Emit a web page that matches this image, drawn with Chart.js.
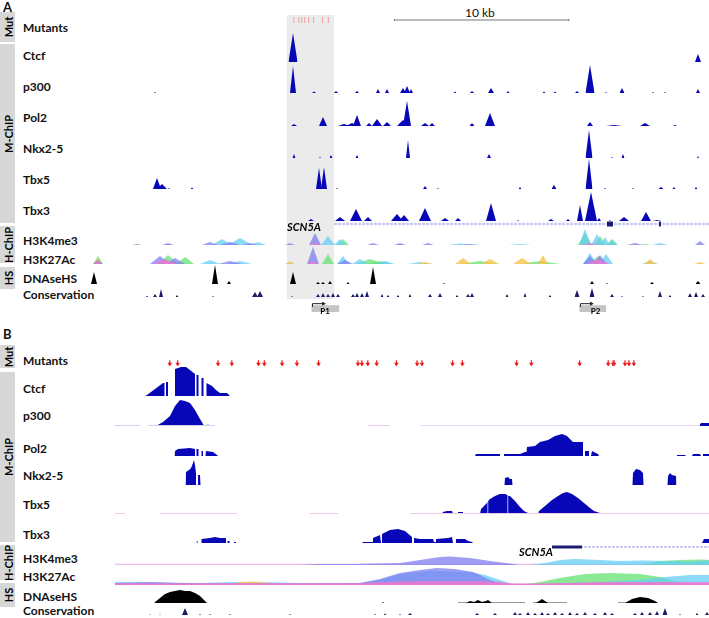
<!DOCTYPE html>
<html>
<head>
<meta charset="utf-8">
<script src="https://cdn.jsdelivr.net/npm/chart.js@4.4.1/dist/chart.umd.min.js"></script>
<style>
body { margin: 0; width: 709px; height: 618px; position: relative; background: #fff; font-family: Lato, 'Open Sans', sans-serif; overflow: hidden; }
canvas.trk { position: absolute; left: 0; }
.lbl { position: absolute; font-weight: bold; font-size: 12px; line-height: 14px; transform: translateY(-50%); white-space: nowrap; color: #111; }
.tab { position: absolute; left: 0; width: 15px; background: #d7d7d7; }
.tab span { position: absolute; left: 50%; top: 50%; transform: translate(-50%, -50%) rotate(-90deg); font-weight: bold; font-size: 11px; white-space: nowrap; }
.hl { position: absolute; background: #ebebeb; }
.gene { position: absolute; font-weight: bold; font-style: italic; font-size: 11px; transform: translateY(-50%); }
.prom { position: absolute; font-weight: bold; font-size: 8px; transform: translate(-50%, -50%); }
</style>
</head>
<body>
<script>
// ---- panel A (view spans the 709 px wide browser window, positions in view bins) ----
const aMut = [293, 298, 301, 304, 308, 313, 322, 328];
// peaks: [position, height, half width]
const aCtcf = [[293, 29, 4.5], [698, 8, 3]];
const aP300 = [[155, 1, 1], [293, 27, 3], [314, 1.5, 2], [336, 2, 2], [357, 2, 2], [378, 4, 2], [387, 4, 2], [403, 5, 3], [407, 7, 3], [411, 4, 2], [455, 1.5, 1.5], [472, 2, 2], [491, 5, 3], [508, 2, 1.5], [544, 1.5, 1.5], [555, 1.5, 1.5], [577, 2, 2], [590, 28, 4.5], [606, 1, 1], [622, 5, 2.5], [653, 1, 1], [665, 1, 1], [698, 4, 2]];
const aPol2 = [[294, 2, 3], [323, 9, 4], [344, 2, 6], [357, 11, 4], [352, 3, 6], [369, 3, 3], [377, 7, 5], [387, 4, 4], [403, 6, 6], [407, 25, 4], [425, 3, 4], [432, 3, 3], [472, 3, 2.5], [490, 13, 5], [590, 4, 3], [614, 1, 8], [645, 3, 5], [675, 1, 2]];
const aNkx = [[294, 4, 1.5], [320, 1, 1], [331, 3, 1.5], [357, 3, 1.5], [408, 18, 2], [489, 4, 2], [589, 28, 3.5], [612, 1, 1], [623, 4, 1.5], [698, 2, 1]];
const aTbx5 = [[157, 11, 4], [162, 5, 5], [169, 1, 1], [192, 1.5, 1.5], [319, 21, 3], [324, 22, 3], [337, 1, 1], [425, 3, 2], [438, 1, 1], [520, 2, 1.5], [554, 4, 2.5], [589, 30, 3.5], [605, 1, 1], [633, 1, 1], [661, 2, 2.5], [674, 2, 1.5], [696, 2, 1.5]];
const aTbx3 = [[311, 2, 3], [340, 4, 5], [356, 12, 6], [368, 4, 4], [397, 7, 6], [404, 6, 5], [425, 13, 6], [445, 3, 4], [458, 3, 3], [491, 18, 5], [518, 1, 1], [551, 2, 3], [568, 2, 2], [580, 16, 3], [591, 29, 6], [599, 3, 2], [610, 1, 1], [624, 4, 5], [646, 9, 5], [657, 1, 4]];
const aK4Purple = [[168, 2, 6], [210, 3, 8], [230, 3, 10], [250, 2, 8], [290, 2, 5], [315, 12, 6], [373, 2, 6], [400, 2, 6], [428, 2, 6], [470, 1, 10], [635, 2, 8], [700, 4, 5]];
const aK4Cyan = [[222, 6, 10], [240, 7, 12], [258, 3, 8], [328, 9, 7], [340, 6, 6], [460, 1.5, 12], [520, 1, 12], [585, 16, 6], [597, 11, 6], [605, 8, 5], [612, 5, 5], [660, 2, 8]];
const aK4Green = [[137, 1, 4], [343, 6, 6], [585, 12, 7], [600, 9, 6], [612, 6, 6], [645, 1, 6]];
const aK4Pink = [[137, 1, 4], [315, 2, 6], [590, 2, 8]];
const aK27Purple = [[98, 4, 5], [160, 8, 10], [175, 6, 10], [230, 3, 12], [313, 17, 6], [345, 4, 8], [590, 8, 7], [600, 9, 7]];
const aK27Green = [[98, 8, 5], [168, 9, 10], [185, 7, 9], [328, 10, 6], [370, 5, 14], [380, 3, 12], [480, 3, 20], [540, 3, 20], [598, 8, 9]];
const aK27Cyan = [[210, 4, 10], [240, 3, 12], [290, 2, 5], [343, 8, 6], [360, 5, 8], [385, 3, 10], [420, 2, 12], [590, 11, 7], [606, 10, 7], [650, 3, 8]];
const aK27Pink = [[98, 3, 4], [165, 5, 12], [313, 3, 5], [598, 5, 12]];
const aK27Orange = [[98, 6, 4], [290, 3, 4], [425, 2, 8], [463, 6, 8], [490, 5, 9], [522, 6, 9], [543, 9, 5], [650, 5, 6], [700, 2, 6]];
const aDnase = [[94, 12, 3], [215, 19, 3], [229, 3, 2], [293, 12, 3], [318, 2, 2], [323, 2, 2], [330, 3, 2], [348, 2, 1.5], [373, 17, 3], [444, 1, 1], [592, 3, 2], [607, 1, 1], [652, 2, 2], [698, 3, 2.5]];
const aCons = [[147, 1, 1.5], [155, 3, 2], [161, 8, 2], [177, 2, 1.5], [213, 1, 1], [255, 5, 3], [260, 6, 3], [292, 1, 1], [318, 3, 2], [323, 4, 2], [328, 3, 2], [333, 4, 2], [338, 3, 2], [353, 3, 2], [357, 4, 2], [362, 4, 2], [367, 6, 2], [382, 3, 1.5], [388, 2, 1.5], [398, 2, 1.5], [410, 3, 1.5], [430, 3, 2], [440, 4, 2], [457, 2, 1.5], [468, 3, 2], [472, 4, 2], [507, 3, 1.5], [525, 4, 1.5], [550, 2, 1.5], [577, 7, 2.5], [592, 9, 2.5], [612, 3, 2], [622, 1, 1], [643, 1, 1], [660, 6, 2], [670, 2, 1.5], [690, 4, 2], [696, 5, 2], [703, 3, 2]];
const aGeneSpan = [334, 709];
const aExons = [[607, 613], [659, 661]];
const aPromoters = [[311, 339, 'P1'], [582, 609, 'P2']];
const aScaleBar = [395, 572];

// ---- panel B (zoom on the P1 region) ----
const bMut = [167, 175, 216, 230, 257, 263, 281, 296, 318, 358, 362, 368, 377, 397, 418, 423, 454, 464, 519, 534, 583, 612, 617, 618, 629, 633, 638];
// profiles: [position, signal]
const bCtcf = [[145, 0], [147, 1], [163, 13], [164.5, 13], [164.5, 0], [166, 0], [166, 14], [168, 14], [168, 0], [175, 0], [175, 27], [181, 29], [186, 29], [190, 26], [195, 22], [195, 0], [196.5, 0], [196.5, 21], [198.5, 21], [198.5, 0], [201.5, 0], [201.5, 18], [203.5, 18], [203.5, 0], [206.5, 0], [206.5, 13], [212, 10], [216, 6], [220, 3], [227, 3], [230, 0]];
const bP300 = [[156, 0], [163, 4], [170, 10], [175, 20], [180, 26], [185, 25], [190, 23], [195, 16], [200, 7], [203, 2], [204, 0], [207, 0], [208, 2], [209, 0], [699, 0], [701, 3], [709, 3]];
const bPol2 = [[174.5, 0], [175, 5], [178, 7], [190, 8], [195, 7], [195, 0], [196.5, 0], [196.5, 7], [198.5, 7], [198.5, 0], [201.5, 0], [201.5, 5], [203, 5], [203, 0], [205.5, 0], [206, 5], [213, 4], [217, 1], [218, 0], [475, 0], [476, 2], [500, 2], [500, 0], [504, 0], [504, 2], [520, 2], [525, 4], [526.5, 4], [527, 9], [535, 10], [540, 14], [548, 16], [555, 20], [562, 22], [567, 20], [573, 14], [583, 14], [583, 0], [585, 0], [585, 5], [589, 5], [589, 0], [591, 0], [592, 5], [598, 2], [599, 0], [677, 0], [677, 1], [685, 1], [686, 0], [692, 0], [693, 2], [700, 2], [701, 0], [703, 0], [703, 2], [709, 2]];
const bNkx = [[185.5, 0], [186, 13], [189, 15], [191, 17], [193, 22], [194, 25], [195, 20], [196, 12], [196, 0], [198, 0], [198, 10], [200, 10], [200.5, 0], [504.5, 0], [505, 7], [508, 8], [510, 6], [512, 6], [512.5, 0], [632.5, 0], [633, 12], [636, 16], [640, 15], [643, 12], [643.5, 0], [667.5, 0], [668, 9], [670, 12], [672, 10], [676, 9], [676.5, 0]];
const bTbx5 = [[436, 0], [437, 1], [438, 0], [442, 0], [443, 2], [447, 3], [452, 3], [453, 0], [458, 0], [458, 2], [463, 2], [463, 0], [471, 0], [472, 1], [473, 0], [480, 0], [481, 5], [486, 10], [487.5, 12], [487.5, 0], [488.2, 0], [488.2, 13], [490, 15], [495, 18], [500, 20], [505, 20], [507.5, 19], [507.5, 0], [508.2, 0], [508.2, 18], [510, 18], [515, 13], [520, 7], [524, 3], [528, 1], [529, 0], [538, 0], [539, 3], [545, 8], [552, 14], [558, 18], [563, 21], [567, 22], [572, 20], [578, 16], [584, 11], [590, 6], [594, 3], [600, 1], [601, 0], [686, 0], [687, 1], [690, 1], [691, 0]];
const bTbx3 = [[196.5, 0], [196.5, 2], [197.5, 2], [197.5, 0], [201.5, 0], [201.5, 4], [210, 5], [215, 6], [220, 5], [226, 5], [226, 0], [227.5, 0], [227.5, 2], [229.5, 2], [229.5, 0], [234, 0], [234, 1], [236, 1], [236, 0], [362, 0], [363, 1], [372, 1], [373, 5], [380, 8], [381, 0], [382, 0], [382, 9], [390, 13], [398, 14], [405, 12], [412, 6], [412, 0], [414, 0], [414, 5], [420, 4], [433, 4], [434, 1], [436, 1], [436, 4], [448, 5], [452, 6], [453, 0], [456, 0], [456, 4], [465, 4], [468, 2], [472, 1], [473, 0], [702, 0], [704, 4], [709, 4]];
const bK4Purple = [[300, 0], [320, 1], [350, 1], [400, 2], [420, 5], [440, 8], [450, 8.5], [470, 7], [490, 4], [510, 1.5], [520, 0]];
const bK4Cyan = [[530, 0], [545, 2], [560, 5], [575, 6], [600, 5], [620, 4], [640, 4.5], [670, 4], [690, 3.5], [709, 4.5]];
const bK4Green = [[640, 0], [660, 4], [680, 5], [700, 5.5], [709, 5]];
const bK27Purple = [[115, 2], [150, 3], [180, 2], [220, 1.5], [300, 1.5], [360, 2], [380, 6], [400, 12], [420, 15], [437, 17], [455, 16], [473, 13], [480, 10], [490, 5], [500, 2], [510, 0]];
const bK27Cyan = [[115, 3], [160, 2.5], [200, 2], [230, 3], [260, 3], [300, 2], [360, 2], [380, 5], [400, 11], [430, 14], [470, 13], [485, 10], [500, 5], [515, 0], [540, 1], [600, 3], [640, 5], [665, 8], [690, 10], [709, 10]];
const bK27Orange = [[225, 0], [240, 3], [255, 3.5], [270, 2], [285, 0]];
const bK27Green = [[520, 0], [540, 3], [560, 7], [585, 11], [610, 12], [640, 11], [660, 8], [675, 4], [690, 1], [700, 0]];
const bK27Pink = [[115, 1.5], [360, 1.5], [380, 3], [420, 4], [480, 4], [500, 3], [515, 1], [540, 1], [570, 2], [600, 3], [650, 3], [709, 3]];
const bDnase = [[154, 0], [160, 5], [165, 9], [170, 11], [175, 12], [180, 13], [185, 12], [190, 12], [195, 10], [200, 7], [205, 2], [207, 0], [382, 0], [383, 1], [384, 0], [466, 0], [470, 2], [474, 1], [478, 3], [482, 1], [486, 2], [488, 3], [492, 0], [536, 0], [542, 4], [548, 0], [625, 0], [632, 4], [640, 6], [648, 5], [655, 2], [658, 0]];
const bDnaseLines = [[458, 525], [533, 567], [618, 657]];
const bCons = [[150, 0.5, 1], [160, 0.5, 1], [185, 7, 3], [200, 1, 1], [210, 1, 1], [230, 1, 1], [290, 1, 1], [375, 1, 1], [385, 1.5, 1.5], [400, 1, 1], [410, 2, 2], [477, 2, 2], [495, 2, 2], [515, 3, 2], [520, 2, 2], [528, 3, 2], [535, 2, 2], [542, 3, 2], [548, 2, 2], [555, 3, 2], [562, 2, 2], [570, 3, 2], [577, 2, 2], [585, 3, 2], [595, 2, 2], [605, 3, 2], [612, 2, 2], [635, 2, 2], [642, 3, 2], [650, 3, 2], [657, 4, 2], [665, 7, 2.5], [680, 1, 1], [697, 2, 1.5], [707, 3, 2]];
const bGeneSpan = [552, 709];
const bExons = [[552, 582]];

const BLUE = '#0707b8';
const NAVY = '#1c1c6c';
const RED = '#ee1c1c';
const PURPLE = 'rgba(125,125,240,0.75)';
const CYAN = 'rgba(100,205,245,0.75)';
const GREEN = 'rgba(100,225,115,0.75)';
const PINK = 'rgba(240,120,210,0.8)';
const ORANGE = 'rgba(248,195,75,0.8)';
const INTRON = '#c9c9ec';

function el(cls, html, css) {
    const d = document.createElement('div');
    d.className = cls;
    if (html) d.innerHTML = html;
    Object.assign(d.style, css);
    document.body.appendChild(d);
    return d;
}

function track(top, h, datasets, ymin) {
    const c = document.createElement('canvas');
    c.className = 'trk';
    c.width = 709;
    c.height = h;
    c.style.top = top + 'px';
    c.style.width = '709px';
    c.style.height = h + 'px';
    document.body.appendChild(c);
    new Chart(c, {
        type: 'line',
        data: { datasets: datasets },
        options: {
            responsive: false,
            animation: false,
            layout: { padding: 0 },
            scales: {
                x: { type: 'linear', display: false, min: 0, max: 709 },
                y: { display: false, min: ymin || 0, max: (ymin || 0) + h }
            },
            plugins: { legend: { display: false }, tooltip: { enabled: false } },
            elements: { point: { radius: 0 }, line: { tension: 0 } }
        }
    });
}

const peaks = (list, color) => list.map(p => ({
    data: [{ x: p[0] - p[2], y: 0 }, { x: p[0], y: p[1] }, { x: p[0] + p[2], y: 0 }],
    fill: 'origin', backgroundColor: color, borderColor: 'rgba(0,0,0,0)', borderWidth: 0, pointRadius: 0
}));
const profile = (list, color) => ({
    data: list.map(p => ({ x: p[0], y: p[1] })),
    fill: 'origin', backgroundColor: color, borderColor: 'rgba(0,0,0,0)', borderWidth: 0, pointRadius: 0
});
const rule = (x0, x1, y, color, width, dash) => ({
    data: [{ x: x0, y: y }, { x: x1, y: y }],
    fill: false, borderColor: color, borderWidth: width, borderDash: dash || [], borderCapStyle: 'butt', pointRadius: 0
});

// highlight, tabs, labels
el('hl', '', { left: '287px', top: '15px', width: '47px', height: '284px' });

function tabs(list) {
    list.forEach(t => el('tab', '<span>' + t[0] + '</span>', { top: t[1] + 'px', height: (t[2] - t[1]) + 'px' }));
}
tabs([['Mut', 12, 42], ['M-ChIP', 44, 223], ['H-ChIP', 226, 263], ['HS', 267, 289],
      ['Mut', 345, 368], ['M-ChIP', 372, 542], ['H-ChIP', 545, 580], ['HS', 583, 607]]);

const names = ['Mutants', 'Ctcf', 'p300', 'Pol2', 'Nkx2-5', 'Tbx5', 'Tbx3', 'H3K4me3', 'H3K27Ac', 'DNAseHS', 'Conservation'];
const aLabelY = [28, 56, 87, 118, 149, 180, 211, 241, 260, 279, 295];
const bLabelY = [361, 389, 416, 449, 476, 505, 535, 559, 577, 597, 611];
names.forEach((n, i) => {
    el('lbl', n, { left: '23px', top: aLabelY[i] + 'px' });
    el('lbl', n, { left: '23px', top: bLabelY[i] + 'px' });
});
el('lbl', 'A', { left: '3px', top: '7px', fontSize: '13px' });
el('lbl', 'B', { left: '3px', top: '334px', fontSize: '13px' });
el('lbl', '10 kb', { left: '465px', top: '13px', fontWeight: 'normal' });

// ---- panel A tracks ----
track(14, 12, [
    rule(aScaleBar[0], aScaleBar[1], 6, '#777', 1),
    { data: aScaleBar.map(x => ({ x: x, y: 6 })), showLine: false, pointStyle: 'line', rotation: 90, pointRadius: 2.5, borderColor: '#777', borderWidth: 1 }
]);
track(12, 16, [{ data: aMut.map(x => ({ x: x, y: 8 })), showLine: false, pointStyle: 'line', rotation: 90, pointRadius: 3.5, borderColor: '#f2a0a0', borderWidth: 1 }]);
track(31, 31, peaks(aCtcf, BLUE));
track(62, 31, peaks(aP300, BLUE));
track(95, 31, peaks(aPol2, BLUE));
track(127, 31, peaks(aNkx, BLUE));
track(158, 31, peaks(aTbx5, BLUE));
track(190, 31, peaks(aTbx3, BLUE));
// exons first so they are drawn over the intron line
track(219, 10, aExons.map(e => rule(e[0], e[1], 0, NAVY, 5)).concat([rule(aGeneSpan[0], aGeneSpan[1], 0, INTRON, 2.5, [3, 1])]), -5);
track(227, 18, [].concat(peaks(aK4Pink, PINK), peaks(aK4Purple, PURPLE), peaks(aK4Cyan, CYAN), peaks(aK4Green, GREEN)));
track(246, 18, [].concat(peaks(aK27Pink, PINK), peaks(aK27Purple, PURPLE), peaks(aK27Orange, ORANGE), peaks(aK27Cyan, CYAN), peaks(aK27Green, GREEN)));
track(264, 20, peaks(aDnase, '#000'));
track(285, 12, peaks(aCons, NAVY));
track(298, 18, [].concat(
    aPromoters.map(p => ({ data: [{ x: p[0] + 12, y: 15 }], showLine: false, pointStyle: 'triangle', rotation: 90, pointRadius: 2.5, backgroundColor: '#222', borderColor: '#222', borderWidth: 0 })),
    aPromoters.map(p => ({ data: [{ x: p[0] + 1, y: 9 }, { x: p[0] + 1, y: 15 }, { x: p[0] + 11, y: 15 }], fill: false, borderColor: '#222', borderWidth: 1, pointRadius: 0 })),
    aPromoters.map(p => rule(p[0], p[1], 5, '#c4c4c4', 8))
));
aPromoters.forEach(p => el('prom', p[2], { left: ((p[0] + p[1]) / 2) + 'px', top: '311px' }));
el('gene', 'SCN5A', { left: '287px', top: '226px' });

// ---- panel B tracks ----
// mutation arrows: a downward triangle head over a vertical stem
track(355, 16, [
    { data: bMut.map(x => ({ x: x, y: 5 })), showLine: false, pointStyle: 'triangle', rotation: 180, pointRadius: 2.6, backgroundColor: RED, borderColor: RED, borderWidth: 0 },
    { data: bMut.map(x => ({ x: x, y: 9 })), showLine: false, pointStyle: 'line', rotation: 90, pointRadius: 4, borderColor: RED, borderWidth: 1.2 }
]);
track(366, 30, [profile(bCtcf, BLUE)]);
track(396, 30, [rule(115, 140, 0.5, '#d8d0f0', 1), rule(148, 215, 0.5, '#d8d0f0', 1), rule(368, 390, 0.5, '#f0c8ec', 1), rule(420, 700, 0.5, '#e4dcf4', 1), profile(bP300, BLUE)]);
track(430, 26, [profile(bPol2, BLUE)]);
track(458, 27, [profile(bNkx, BLUE)]);
track(490, 24, [rule(115, 125, 0.5, '#f0c8ec', 1), rule(160, 237, 0.5, '#f0c8ec', 1), rule(310, 338, 0.5, '#f0c8ec', 1), rule(410, 709, 0.5, '#f0c8ec', 1), profile(bTbx5, BLUE)]);
track(525, 18, [profile(bTbx3, BLUE)]);
track(542, 10, bExons.map(e => rule(e[0], e[1], 0, NAVY, 3)).concat([rule(bGeneSpan[0], bGeneSpan[1], 0, INTRON, 2, [3, 1])]), -5);
el('gene', 'SCN5A', { left: '519px', top: '551px' });
track(553, 12, [profile(bK4Purple, PURPLE), profile(bK4Cyan, CYAN), profile(bK4Green, GREEN), rule(115, 709, 0.5, '#f0bde8', 1.5)]);
track(566, 19, [rule(115, 709, 0.8, '#e678cf', 1.6), profile(bK27Pink, PINK), profile(bK27Purple, PURPLE), profile(bK27Orange, ORANGE), profile(bK27Cyan, CYAN), profile(bK27Green, GREEN)]);
track(588, 15, [profile(bDnase, '#000')].concat(bDnaseLines.map(l => rule(l[0], l[1], 0.5, '#999', 1))));
track(606, 9, peaks(bCons, NAVY));
</script>
</body>
</html>
